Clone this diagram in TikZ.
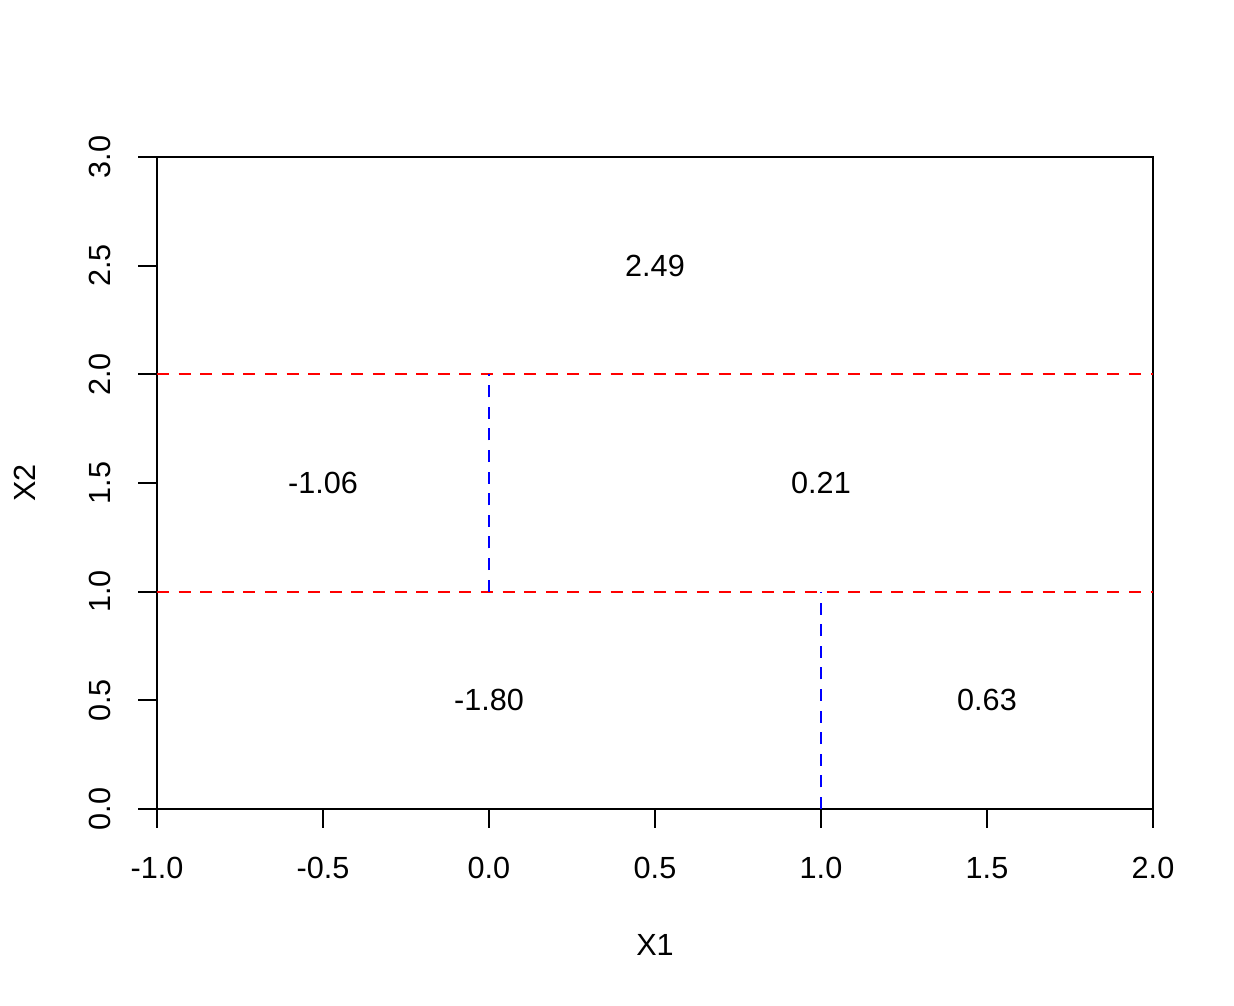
\documentclass[tikz,border=0pt]{standalone}
\usepackage{fontspec}
\setmainfont{Liberation Sans}
\begin{document}
\begin{tikzpicture}[x=166pt,y=108.667pt,
  lbl/.style={inner sep=0pt,font=\fontsize{15.3}{18}\selectfont},
  axisline/.style={line width=1pt,black},
  splitred/.style={red,line width=1pt,dash pattern=on 6pt off 4.8pt},
  splitblue/.style={blue,line width=1pt,dash pattern=on 6pt off 4.8pt}]
\useasboundingbox (-1.4729,-0.9064) rectangle (2.2440,3.7224);
% box
\draw[axisline] (-1,0) rectangle (2,3);
\draw[line width=1.3pt] (-1,0) -- (-1,3);
% x ticks
\foreach \v/\t in {-1/-1.0,-0.5/-0.5,0/0.0,0.5/0.5,1/1.0,1.5/1.5,2/2.0}{
  \draw[axisline] (\v,0) -- ++(0,-9.5pt);
  \node[lbl] (xt\v) at ([yshift=-29.5pt]\v,0) {\t};
}
% y ticks
\foreach \v/\t in {0/0.0,0.5/0.5,1/1.0,1.5/1.5,2/2.0,2.5/2.5,3/3.0}{
  \draw[axisline] (-1,\v) -- ++(-9.5pt,0);
  \node[lbl,rotate=90] (yt\v) at ([xshift=-28.5pt]-1,\v) {\t};
}
\node[lbl] (xlab) at ([yshift=-68pt]0.5,0) {X1};
\node[lbl,rotate=90] (ylab) at ([xshift=-66pt]-1,1.5) {X2};
% splits
\draw[splitred] (-1,2) -- (2,2);
\draw[splitred] (-1,1) -- (2,1);
\draw[splitblue] (0,1) -- (0,2);
\draw[splitblue] (1,0) -- (1,1);
% leaf values
\node[lbl] (l1) at (0.5,2.5) {2.49};
\node[lbl] (l2) at (-0.5,1.5) {-1.06};
\node[lbl] (l3) at (1,1.5) {0.21};
\node[lbl] (l4) at (0,0.5) {-1.80};
\node[lbl] (l5) at (1.5,0.5) {0.63};
\end{tikzpicture}
\end{document}
